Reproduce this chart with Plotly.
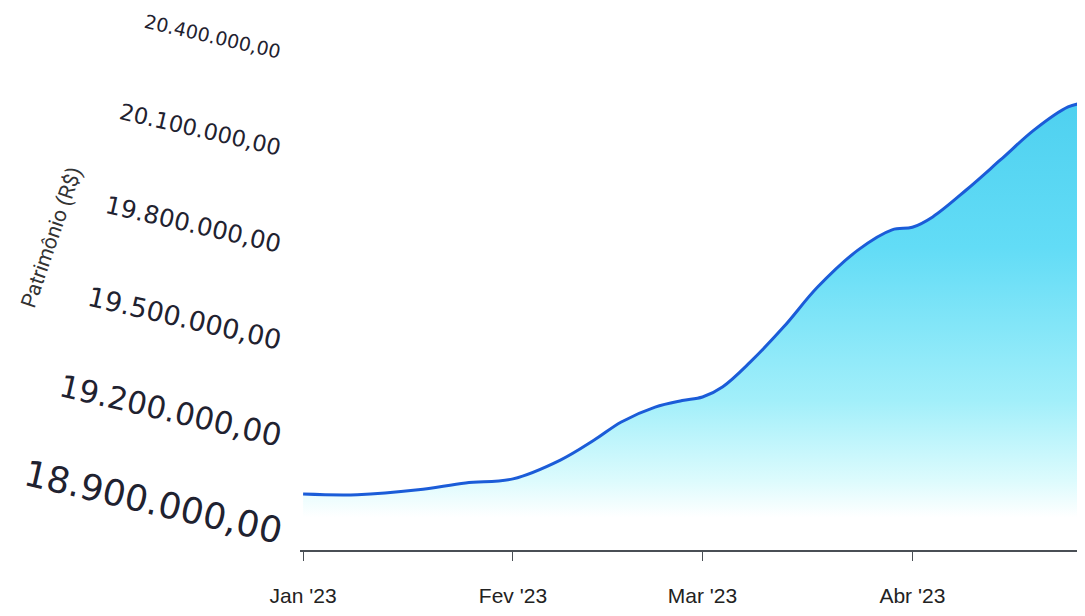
import plotly.graph_objects as go

# Net worth (Patrimônio)
datas = ["2023-01-01", "2023-01-09", "2023-01-18", "2023-01-25",
         "2023-02-01", "2023-02-08", "2023-02-13", "2023-02-17", "2023-02-22",
         "2023-02-26", "2023-03-01", "2023-03-04", "2023-03-08", "2023-03-13",
         "2023-03-18", "2023-03-24", "2023-03-29",
         "2023-04-01", "2023-04-04", "2023-04-09", "2023-04-14", "2023-04-19",
         "2023-04-24", "2023-04-27", "2023-04-30"]
patrimonio = [19033000, 19031000, 19046000, 19067000,
              19080000, 19138000, 19200000, 19256000, 19302000,
              19322000, 19333000, 19365000, 19440000, 19550000,
              19673000, 19788000, 19850000,
              19858000, 19890000, 19974000, 20066000, 20159000,
              20230000, 20246000, 20260000]

tick_datas = ["2023-01-01", "2023-02-01", "2023-03-01", "2023-04-01"]
tick_textos = ["Jan '23", "Fev '23", "Mar '23", "Abr '23"]
y_ticks = [18900000, 19200000, 19500000, 19800000, 20100000, 20400000]
y_tick_textos = ["18.900.000,00", "19.200.000,00", "19.500.000,00",
                 "19.800.000,00", "20.100.000,00", "20.400.000,00"]

# the photo's perspective makes the lower labels bigger
tamanhos = [36, 31, 27, 24.5, 22.5, 19]
y_labels = ['<span style="font-size:%spx">%s</span>' % (s, t)
            for s, t in zip(tamanhos, y_tick_textos)]

y_min, y_max = 18860000, 20536000

fig = go.Figure()
fig.add_trace(go.Scatter(
    x=datas, y=patrimonio,
    mode="lines",
    line=dict(color="#1b5cd8", width=3, shape="spline", smoothing=1.0),
    fill="tozeroy",
    fillgradient=dict(
        type="vertical",
        start=y_min, stop=20300000,
        colorscale=[[0, "#ffffff"], [0.07, "#ffffff"], [0.15, "#dcfbfd"],
                    [0.32, "#a2effa"], [0.65, "#62dcf6"], [1, "#4ccfef"]],
    ),
    hoverinfo="skip",
    showlegend=False,
))

fig.update_layout(
    width=1085, height=616,
    margin=dict(l=292, r=8, t=0, b=74, autoexpand=False),
    paper_bgcolor="white",
    plot_bgcolor="white",
    font=dict(family="DejaVu Sans", color="#1f2230"),
)

fig.update_xaxes(
    type="date",
    range=["2022-12-31 13:00", "2023-04-26 12:00"],
    tickvals=tick_datas, ticktext=tick_textos,
    showgrid=False, zeroline=False,
    showline=True, linecolor="#4a4f55", linewidth=1.5,
    ticks="outside", ticklen=9, tickcolor="#4a4f55",
    ticklabelstandoff=17,
    tickfont=dict(family="Liberation Sans, Arial", size=21, color="#222222"),
)

fig.update_yaxes(
    range=[y_min, y_max],
    tickvals=y_ticks, ticktext=y_labels,
    tickangle=13,
    showgrid=False, zeroline=False, showline=False,
    ticks="", ticklabelstandoff=18,
    ticklabeloverflow="allow",
    tickfont=dict(family="DejaVu Sans", size=20, color="#1f2230"),
)

fig.add_annotation(
    text="Patrimônio (R$)",
    xref="paper", yref="paper",
    x=-0.317, y=0.576, xanchor="center", yanchor="middle",
    textangle=-71, showarrow=False,
    font=dict(family="Liberation Sans Narrow, Roboto", size=21, color="#333333"),
)

fig.write_html("out.html")
